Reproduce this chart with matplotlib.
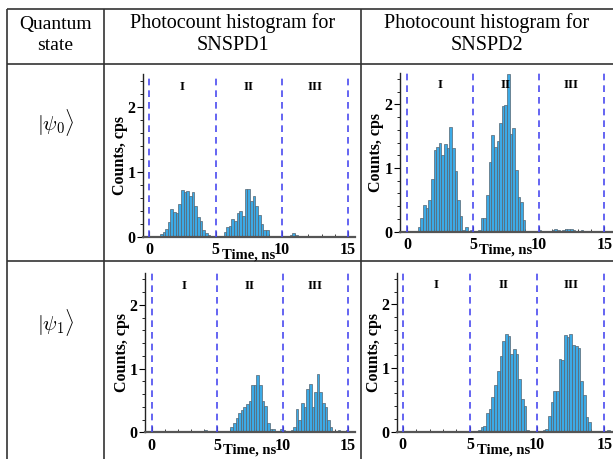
import numpy as np
import matplotlib
matplotlib.use('Agg')
import matplotlib.pyplot as plt
from matplotlib.transforms import blended_transform_factory
from matplotlib.ticker import MultipleLocator, FixedLocator

plt.rcParams['font.family'] = ['Liberation Serif', 'DejaVu Serif']
plt.rcParams['mathtext.fontset'] = 'cm'

# ---------------- data ----------------
bin_width = 0.2
bin_left = np.round(np.arange(77) * bin_width, 1)   # left edges 0.0 ... 15.2 ns

snspd1_psi0 = [
    0, 0, 0, 0, 0.04, 0.07, 0.12, 0.23, 0.43, 0.38,
    0.37, 0.51, 0.72, 0.69, 0.70, 0.63, 0.69, 0.48, 0.30, 0.24,
    0.10, 0.05, 0.03, 0, 0, 0, 0.01, 0, 0.08, 0.15,
    0.17, 0.27, 0.24, 0.36, 0.40, 0.32, 0.73, 0.73, 0.55, 0.63,
    0.48, 0.33, 0.20, 0.10, 0.10, 0, 0, 0, 0, 0,
    0, 0, 0.01, 0.02, 0.05, 0.03, 0, 0.01, 0, 0,
    0, 0.01, 0.01, 0, 0, 0, 0, 0, 0, 0,
    0, 0, 0, 0, 0, 0, 0]

snspd2_psi0 = [
    0, 0, 0, 0, 0.07, 0.21, 0.42, 0.38, 0.49, 0.82,
    1.29, 1.33, 1.39, 1.20, 1.37, 1.32, 1.65, 1.32, 0.95, 0.49,
    0.24, 0.02, 0.07, 0, 0.02, 0, 0, 0.02, 0.21, 0.21,
    0.57, 1.09, 1.52, 1.33, 1.42, 1.71, 1.97, 1.99, 2.48, 1.54,
    1.63, 0.97, 0.55, 0.47, 0.19, 0, 0, 0, 0, 0,
    0.02, 0, 0, 0, 0, 0.02, 0.04, 0.02, 0, 0.03,
    0.04, 0.04, 0.04, 0.02, 0, 0.01, 0.02, 0, 0, 0,
    0, 0, 0, 0, 0, 0, 0]

snspd1_psi1 = [
    0, 0, 0, 0, 0, 0, 0, 0, 0, 0,
    0, 0, 0, 0, 0, 0, 0, 0, 0, 0,
    0.03, 0, 0, 0, 0, 0, 0, 0, 0, 0,
    0.08, 0.15, 0.23, 0.31, 0.35, 0.40, 0.44, 0.49, 0.74, 0.74,
    0.90, 0.74, 0.49, 0.41, 0.15, 0.05, 0.05, 0, 0, 0.05,
    0.03, 0, 0, 0.03, 0.08, 0.36, 0.20, 0.46, 0.40, 0.68,
    0.76, 0.40, 0.64, 0.92, 0.64, 0.46, 0.40, 0.20, 0.08, 0,
    0, 0.03, 0, 0, 0.04, 0, 0]

snspd2_psi1 = [
    0, 0, 0, 0, 0, 0, 0, 0, 0, 0,
    0, 0, 0, 0, 0, 0, 0, 0, 0, 0,
    0, 0, 0, 0, 0, 0, 0, 0, 0.03, 0.07,
    0.09, 0.29, 0.35, 0.55, 0.73, 0.95, 1.19, 1.43, 1.53, 1.51,
    1.22, 1.30, 1.22, 0.82, 0.51, 0.41, 0.03, 0, 0, 0,
    0.01, 0, 0.02, 0.04, 0.24, 0.47, 0.64, 0.64, 1.14, 1.12,
    1.52, 1.49, 1.54, 1.36, 1.35, 1.31, 0.79, 0.58, 0.23, 0.16,
    0, 0, 0, 0, 0, 0, 0.03]

window_edges = [0, 5, 10, 15]
window_names = ['I', 'II', 'III']
window_centers = [2.5, 7.5, 12.5]
x_ticks = [0, 5, 10, 15]
y_ticks = [0, 1, 2]

header_state = 'Quantum\nstate'
header_cols = ['Photocount histogram for\nSNSPD1', 'Photocount histogram for\nSNSPD2']
state_labels = [r'$|\psi_0\rangle$', r'$|\psi_1\rangle$']

# ---------------- layout ----------------
W, H = 613, 459
fig = plt.figure(figsize=(W / 100, H / 100), dpi=100)

# table grid (pixel coordinates on a background axes)
bg = fig.add_axes([0, 0, 1, 1])
bg.set_xlim(0, W)
bg.set_ylim(H, 0)
bg.axis('off')
grid_col = '#333333'
x_left, x_c1, x_c2, x_right = 7, 104, 361, 613
y_top, y_h, y_r1, y_bot = 9, 64, 261, 470
for x in (x_left, x_c1, x_c2):
    bg.plot([x, x], [y_top, y_bot], color=grid_col, lw=1.2, solid_capstyle='butt')
for y in (y_top, y_h, y_r1):
    bg.plot([x_left, x_right + 5], [y, y], color=grid_col, lw=1.2, solid_capstyle='butt')

bg.text((x_left + x_c1) / 2, 35, header_state, ha='center', va='center',
        fontsize=14, linespacing=1.3)
bg.text((x_c1 + x_c2) / 2, 34, header_cols[0], ha='center', va='center',
        fontsize=14.5, linespacing=1.2)
bg.text((x_c2 + x_right) / 2, 34, header_cols[1], ha='center', va='center',
        fontsize=14.5, linespacing=1.2)
bg.text((x_left + x_c1) / 2, 122, state_labels[0], ha='center', va='center', fontsize=15)
bg.text((x_left + x_c1) / 2, 322, state_labels[1], ha='center', va='center', fontsize=15)

# panels: (left_px, right_px, top_px (y=2.5), bottom_px (y=0), xmin, xmax)
panels = [
    (snspd1_psi0, (143.3, 354.8, 74.2, 236.7, -0.45, 15.5)),
    (snspd2_psi0, (400.0, 612.0, 72.5, 231.7, -0.56, 15.59)),
    (snspd1_psi1, (145.0, 355.0, 273.1, 432.3, -0.51, 15.52)),
    (snspd2_psi1, (397.3, 612.0, 272.5, 431.7, -0.40, 15.56)),
]

bold = dict(fontweight='bold', family=['Liberation Serif', 'DejaVu Serif'])

for counts, (lp, rp, tp, bp, xmin, xmax) in panels:
    wpx, hpx = rp - lp, bp - tp
    ax = fig.add_axes([lp / W, (H - bp) / H, wpx / W, hpx / H])
    ax.set_xlim(xmin, xmax)
    ax.set_ylim(0, 2.5)
    ax.patch.set_alpha(0)
    for s in ('top', 'right'):
        ax.spines[s].set_visible(False)
    ax.spines['left'].set_color('#222222')
    ax.spines['left'].set_linewidth(1.0)
    ax.spines['bottom'].set_color('#555555')
    ax.spines['bottom'].set_linewidth(1.6)

    ax.bar(bin_left, counts, width=bin_width, align='edge',
           color='#3caae6', edgecolor='#566470', linewidth=0.5, zorder=2)
    for xe in window_edges:
        ax.axvline(xe, color='#4a4af0', lw=1.2, ls=(0, (4, 3)), zorder=3)
    for xc, name in zip(window_centers, window_names):
        ax.text(xc, 2.3, name, ha='center', va='center', fontsize=9.5, **bold)

    ax.xaxis.set_major_locator(FixedLocator(x_ticks))
    ax.xaxis.set_minor_locator(MultipleLocator(1))
    ax.yaxis.set_major_locator(FixedLocator(y_ticks))
    ax.yaxis.set_minor_locator(MultipleLocator(0.2))
    ax.tick_params(axis='x', which='major', direction='in', length=4, width=0.8,
                   pad=4.0, labelsize=11.5, colors='#222222')
    ax.tick_params(axis='x', which='minor', direction='in', length=2.5, width=0.6,
                   colors='#222222')
    ax.tick_params(axis='y', which='major', direction='out', length=4, width=0.8,
                   pad=1.5, labelsize=11.5)
    ax.tick_params(axis='y', which='minor', direction='out', length=2.5, width=0.6)
    for lab in ax.get_xticklabels() + ax.get_yticklabels():
        lab.set_fontweight('bold')
        lab.set_color('black')

    tr = blended_transform_factory(ax.transData, ax.transAxes)
    ax.text(7.5, -18.0 / hpx, 'Time, ns', transform=tr, ha='center', va='center',
            fontsize=10.5, **bold)
    ax.text(-23.5 / wpx, 0.5, 'Counts, cps', transform=ax.transAxes, rotation=90,
            ha='center', va='center', fontsize=11.5, **bold)

fig.savefig('out.png', dpi=100)
